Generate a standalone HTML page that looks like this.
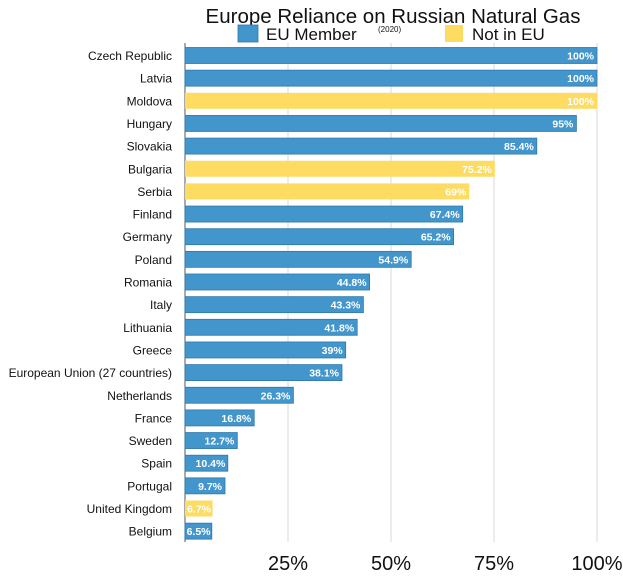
<!DOCTYPE html>
<html><head><style>body{margin:0;background:#fff;}</style></head><body>
<svg width="623" height="574" xmlns="http://www.w3.org/2000/svg" font-family="Liberation Sans, Arial, sans-serif">
<rect width="623" height="574" fill="#fff"/>
<text x="393" y="23" font-size="20.5" text-anchor="middle" fill="#111">Europe Reliance on Russian Natural Gas</text>
<rect x="238" y="25" width="20" height="17" fill="#4396cc" stroke="#2f78ab" stroke-width="0.8"/>
<text x="266" y="40" font-size="17" fill="#111">EU Member</text>
<text x="378" y="32" font-size="8" fill="#111">(2020)</text>
<rect x="445" y="25" width="18" height="17" fill="#fedc62"/>
<text x="472" y="40" font-size="17" fill="#111">Not in EU</text>
<g stroke="#d8d8d8" stroke-width="1">
<line x1="288" y1="43" x2="288" y2="542"/><line x1="391" y1="43" x2="391" y2="542"/>
<line x1="494" y1="43" x2="494" y2="542"/><line x1="597" y1="43" x2="597" y2="542"/>
</g>
<line x1="185" y1="43" x2="185" y2="542" stroke="#555" stroke-width="1"/>
<g font-size="12">
<g transform="translate(0,55.5)"><text x="172" y="4.5" text-anchor="end" fill="#111">Czech Republic</text><rect x="185" y="-8" width="412" height="16" fill="#4396cc" stroke="#2f78ab" stroke-width="0.8"/><text x="594" y="4" text-anchor="end" font-size="10.5" font-weight="bold" fill="#fff">100%</text></g>
<g transform="translate(0,78.15)"><text x="172" y="4.5" text-anchor="end" fill="#111">Latvia</text><rect x="185" y="-8" width="412" height="16" fill="#4396cc" stroke="#2f78ab" stroke-width="0.8"/><text x="594" y="4" text-anchor="end" font-size="10.5" font-weight="bold" fill="#fff">100%</text></g>
<g transform="translate(0,100.8)"><text x="172" y="4.5" text-anchor="end" fill="#111">Moldova</text><rect x="185" y="-8" width="412" height="16" fill="#fedc62"/><text x="594" y="4" text-anchor="end" font-size="10.5" font-weight="bold" fill="#fff">100%</text></g>
<g transform="translate(0,123.45)"><text x="172" y="4.5" text-anchor="end" fill="#111">Hungary</text><rect x="185" y="-8" width="391.4" height="16" fill="#4396cc" stroke="#2f78ab" stroke-width="0.8"/><text x="573.4" y="4" text-anchor="end" font-size="10.5" font-weight="bold" fill="#fff">95%</text></g>
<g transform="translate(0,146.1)"><text x="172" y="4.5" text-anchor="end" fill="#111">Slovakia</text><rect x="185" y="-8" width="351.8" height="16" fill="#4396cc" stroke="#2f78ab" stroke-width="0.8"/><text x="533.8" y="4" text-anchor="end" font-size="10.5" font-weight="bold" fill="#fff">85.4%</text></g>
<g transform="translate(0,168.75)"><text x="172" y="4.5" text-anchor="end" fill="#111">Bulgaria</text><rect x="185" y="-8" width="309.8" height="16" fill="#fedc62"/><text x="491.8" y="4" text-anchor="end" font-size="10.5" font-weight="bold" fill="#fff">75.2%</text></g>
<g transform="translate(0,191.4)"><text x="172" y="4.5" text-anchor="end" fill="#111">Serbia</text><rect x="185" y="-8" width="284.3" height="16" fill="#fedc62"/><text x="466.3" y="4" text-anchor="end" font-size="10.5" font-weight="bold" fill="#fff">69%</text></g>
<g transform="translate(0,214.05)"><text x="172" y="4.5" text-anchor="end" fill="#111">Finland</text><rect x="185" y="-8" width="277.7" height="16" fill="#4396cc" stroke="#2f78ab" stroke-width="0.8"/><text x="459.7" y="4" text-anchor="end" font-size="10.5" font-weight="bold" fill="#fff">67.4%</text></g>
<g transform="translate(0,236.7)"><text x="172" y="4.5" text-anchor="end" fill="#111">Germany</text><rect x="185" y="-8" width="268.6" height="16" fill="#4396cc" stroke="#2f78ab" stroke-width="0.8"/><text x="450.6" y="4" text-anchor="end" font-size="10.5" font-weight="bold" fill="#fff">65.2%</text></g>
<g transform="translate(0,259.35)"><text x="172" y="4.5" text-anchor="end" fill="#111">Poland</text><rect x="185" y="-8" width="226.2" height="16" fill="#4396cc" stroke="#2f78ab" stroke-width="0.8"/><text x="408.2" y="4" text-anchor="end" font-size="10.5" font-weight="bold" fill="#fff">54.9%</text></g>
<g transform="translate(0,282)"><text x="172" y="4.5" text-anchor="end" fill="#111">Romania</text><rect x="185" y="-8" width="184.6" height="16" fill="#4396cc" stroke="#2f78ab" stroke-width="0.8"/><text x="366.6" y="4" text-anchor="end" font-size="10.5" font-weight="bold" fill="#fff">44.8%</text></g>
<g transform="translate(0,304.65)"><text x="172" y="4.5" text-anchor="end" fill="#111">Italy</text><rect x="185" y="-8" width="178.4" height="16" fill="#4396cc" stroke="#2f78ab" stroke-width="0.8"/><text x="360.4" y="4" text-anchor="end" font-size="10.5" font-weight="bold" fill="#fff">43.3%</text></g>
<g transform="translate(0,327.3)"><text x="172" y="4.5" text-anchor="end" fill="#111">Lithuania</text><rect x="185" y="-8" width="172.2" height="16" fill="#4396cc" stroke="#2f78ab" stroke-width="0.8"/><text x="354.2" y="4" text-anchor="end" font-size="10.5" font-weight="bold" fill="#fff">41.8%</text></g>
<g transform="translate(0,349.95)"><text x="172" y="4.5" text-anchor="end" fill="#111">Greece</text><rect x="185" y="-8" width="160.7" height="16" fill="#4396cc" stroke="#2f78ab" stroke-width="0.8"/><text x="342.7" y="4" text-anchor="end" font-size="10.5" font-weight="bold" fill="#fff">39%</text></g>
<g transform="translate(0,372.6)"><text x="172" y="4.5" text-anchor="end" fill="#111">European Union (27 countries)</text><rect x="185" y="-8" width="157" height="16" fill="#4396cc" stroke="#2f78ab" stroke-width="0.8"/><text x="339" y="4" text-anchor="end" font-size="10.5" font-weight="bold" fill="#fff">38.1%</text></g>
<g transform="translate(0,395.25)"><text x="172" y="4.5" text-anchor="end" fill="#111">Netherlands</text><rect x="185" y="-8" width="108.4" height="16" fill="#4396cc" stroke="#2f78ab" stroke-width="0.8"/><text x="290.4" y="4" text-anchor="end" font-size="10.5" font-weight="bold" fill="#fff">26.3%</text></g>
<g transform="translate(0,417.9)"><text x="172" y="4.5" text-anchor="end" fill="#111">France</text><rect x="185" y="-8" width="69.2" height="16" fill="#4396cc" stroke="#2f78ab" stroke-width="0.8"/><text x="251.2" y="4" text-anchor="end" font-size="10.5" font-weight="bold" fill="#fff">16.8%</text></g>
<g transform="translate(0,440.55)"><text x="172" y="4.5" text-anchor="end" fill="#111">Sweden</text><rect x="185" y="-8" width="52.3" height="16" fill="#4396cc" stroke="#2f78ab" stroke-width="0.8"/><text x="234.3" y="4" text-anchor="end" font-size="10.5" font-weight="bold" fill="#fff">12.7%</text></g>
<g transform="translate(0,463.2)"><text x="172" y="4.5" text-anchor="end" fill="#111">Spain</text><rect x="185" y="-8" width="42.8" height="16" fill="#4396cc" stroke="#2f78ab" stroke-width="0.8"/><text x="225.3" y="4" text-anchor="end" font-size="10.5" font-weight="bold" fill="#fff">10.4%</text></g>
<g transform="translate(0,485.85)"><text x="172" y="4.5" text-anchor="end" fill="#111">Portugal</text><rect x="185" y="-8" width="40" height="16" fill="#4396cc" stroke="#2f78ab" stroke-width="0.8"/><text x="222" y="4" text-anchor="end" font-size="10.5" font-weight="bold" fill="#fff">9.7%</text></g>
<g transform="translate(0,508.5)"><text x="172" y="4.5" text-anchor="end" fill="#111">United Kingdom</text><rect x="185" y="-8" width="27.6" height="16" fill="#fedc62"/><text x="211" y="4" text-anchor="end" font-size="10.5" font-weight="bold" fill="#fff">6.7%</text></g>
<g transform="translate(0,531.15)"><text x="172" y="4.5" text-anchor="end" fill="#111">Belgium</text><rect x="185" y="-8" width="26.8" height="16" fill="#4396cc" stroke="#2f78ab" stroke-width="0.8"/><text x="210.5" y="4" text-anchor="end" font-size="10.5" font-weight="bold" fill="#fff">6.5%</text></g>
</g>
<g font-size="20" fill="#111" text-anchor="middle">
<text x="288" y="570">25%</text><text x="391" y="570">50%</text><text x="494" y="570">75%</text><text x="597" y="570">100%</text>
</g>
</svg>
</body></html>
